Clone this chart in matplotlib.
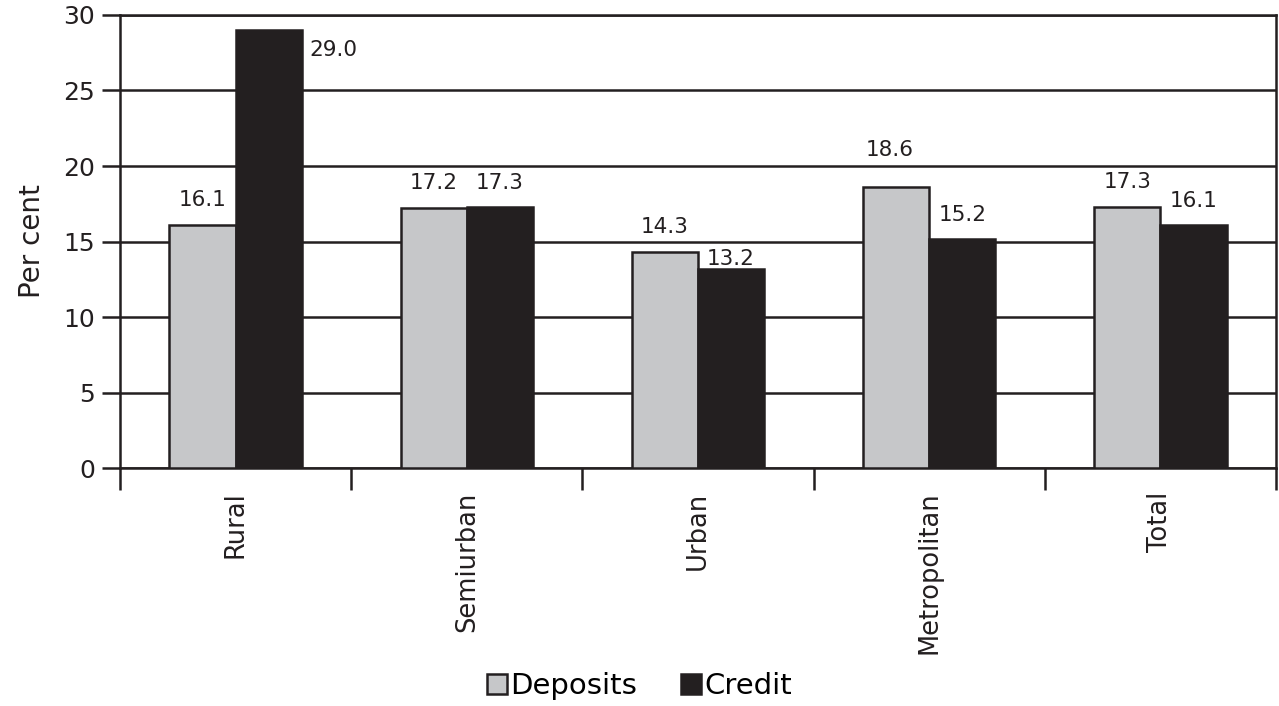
import numpy as np
import matplotlib.pyplot as plt

categories = ["Rural", "Semiurban", "Urban", "Metropolitan", "Total"]
deposits = [16.1, 17.2, 14.3, 18.6, 17.3]
credit = [29.0, 17.3, 13.2, 15.2, 16.1]

# label offsets in pixels (dx, dy) from top centre of each bar
dep_off = [(0, 25), (0, 25), (0, 25), (-6, 37), (0, 25)]
cred_off = [(65, -20), (0, 24), (0, 10), (0, 24), (0, 24)]

ink = "#231f20"
grey = "#c6c7c9"

plt.rcParams['font.family'] = ['DejaVu Sans']
fig = plt.figure(figsize=(12.79, 7.06), dpi=100)
ax = fig.add_axes([0.0938, 0.337, 0.9039, 0.6418])

x = np.arange(len(categories))
w = 0.286
b1 = ax.bar(x - w/2, deposits, w, color=grey, edgecolor=ink, linewidth=1.8,
            label="Deposits", zorder=3)
b2 = ax.bar(x + w/2, credit, w, color=ink, edgecolor=ink, linewidth=1.8,
            label="Credit", zorder=3)

for rect, v, (dx, dy) in zip(b1, deposits, dep_off):
    ax.annotate(f"{v:.1f}", (rect.get_x() + rect.get_width()/2, v),
                xytext=(dx, dy), textcoords="offset pixels",
                ha="center", va="center", fontsize=15.5, color=ink)
for rect, v, (dx, dy) in zip(b2, credit, cred_off):
    ax.annotate(f"{v:.1f}", (rect.get_x() + rect.get_width()/2, v),
                xytext=(dx, dy), textcoords="offset pixels",
                ha="center", va="center", fontsize=15.5, color=ink)

ax.set_xlim(-0.5, len(categories) - 0.5)
ax.set_ylim(0, 30)
ax.set_yticks(np.arange(0, 31, 5))
ax.yaxis.grid(True, color=ink, linewidth=1.8, zorder=0)
ax.set_axisbelow(True)
ax.tick_params(axis="y", length=13, width=1.8, color=ink, pad=5,
               labelsize=18, labelcolor=ink)

ax.set_xticks(x)
ax.set_xticklabels(categories, rotation=90, fontsize=18.5, color=ink, va="top")
ax.set_xticks(np.arange(-0.5, len(categories)), minor=True)
ax.tick_params(axis="x", which="major", length=0, pad=17)
ax.tick_params(axis="x", which="minor", length=16, width=1.8, color=ink)

for s in ax.spines.values():
    s.set_color(ink)
    s.set_linewidth(1.8)

ax.set_ylabel("Per cent", fontsize=20, color=ink, labelpad=12)

fig.legend(loc="center", bbox_to_anchor=(0.5, 0.028), ncol=2, frameon=False,
           fontsize=21, handlelength=0.7, handleheight=0.7,
           handletextpad=0.1, columnspacing=1.5)

fig.savefig("out.png", dpi=100)
